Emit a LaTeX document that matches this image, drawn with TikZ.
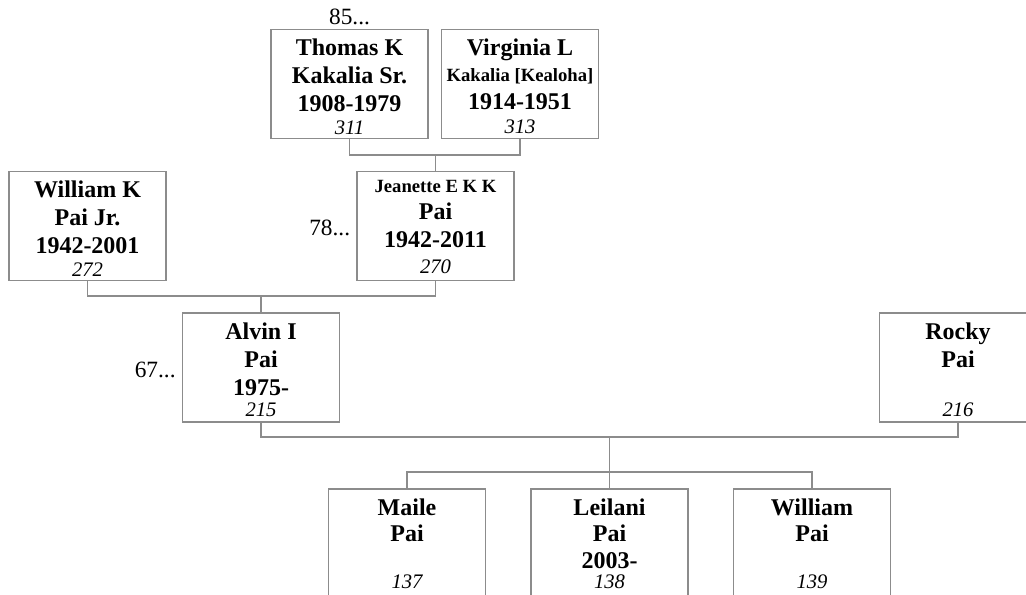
\documentclass[tikz,border=0pt]{standalone}
\usepackage{fontspec}
\setmainfont{Liberation Serif}
\usetikzlibrary{calc}
\definecolor{boxgray}{RGB}{140,140,140}
\newcommand{\nm}{\fontsize{18}{21}\selectfont\bfseries}
\newcommand{\sm}{\fontsize{14}{21}\selectfont\bfseries}
\newcommand{\num}[1]{{\fontsize{15.5}{21}\selectfont\mdseries\itshape #1}}
\newcommand{\gen}[1]{{\fontsize{17.5}{21}\selectfont #1...}}
\tikzset{
  pbox/.style={draw=boxgray, line width=0.9pt, minimum width=117.75pt, minimum height=81.75pt, inner sep=0pt},
  txt/.style={anchor=north, align=center, inner sep=0pt, font=\nm},
  conn/.style={draw=boxgray, line width=0.9pt},
  genlbl/.style={inner sep=0pt}
}
\begin{document}
\begin{tikzpicture}[x=0.75pt,y=-0.75pt]
\path[use as bounding box] (0,0) rectangle (1026,594);
\clip (0,0) rectangle (1026,594);
\fill[white] (0,0) rectangle (1026,594);
% boxes
\node[pbox] (thomas) at (349.5,84) {};
\node[pbox] (virginia) at (520,84) {};
\node[pbox] (william) at (87.5,226) {};
\node[pbox] (jeanette) at (435.5,226) {};
\node[pbox] (alvin) at (261,367.5) {};
\node[pbox] (rocky) at (958,367.5) {};
\node[pbox] (maile) at (407,543.5) {};
\node[pbox] (leilani) at (609.5,543.5) {};
\node[pbox] (willc) at (812,543.5) {};
% texts
\node[txt] (thomasT) at ($(thomas.north)+(0,10)$) {Thomas K\\Kakalia Sr.\\1908-1979\\[-4pt]\num{311}};
\node[txt] (virginiaT) at ($(virginia.north)+(0,10)$) {Virginia L\\[-2pt]{\sm Kakalia [Kealoha]}\\1914-1951\\[-3pt]\num{313}};
\node[txt] (williamT) at ($(william.north)+(0,10)$) {William K\\Pai Jr.\\1942-2001\\[-4pt]\num{272}};
\node[txt] (jeanetteT) at ($(jeanette.north)+(0,9)$) {{\sm Jeanette E K K}\\[-1pt]Pai\\1942-2011\\[-1pt]\num{270}};
\node[txt] (alvinT) at ($(alvin.north)+(0,10)$) {Alvin I\\Pai\\1975-\\[-5pt]\num{215}};
\node[txt] (rockyT) at ($(rocky.north)+(0,10)$) {Rocky\\Pai\\\mbox{}\\[-5pt]\num{216}};
\node[txt] (maileT) at ($(maile.north)+(0,10)$) {Maile\\[-1pt]Pai\\[-1pt]\mbox{}\\[-6pt]\num{137}};
\node[txt] (leilaniT) at ($(leilani.north)+(0,10)$) {Leilani\\[-1pt]Pai\\[-1pt]2003-\\[-6pt]\num{138}};
\node[txt] (willcT) at ($(willc.north)+(0,10)$) {William\\[-1pt]Pai\\[-1pt]\mbox{}\\[-6pt]\num{139}};
% generation labels
\node[genlbl, anchor=south] (g85) at ($(thomas.north)+(0,-4)$) {\gen{85}};
\node[genlbl, anchor=east] (g78) at ($(jeanette.west)+(-6,2)$) {\gen{78}};
\node[genlbl, anchor=east] (g67) at ($(alvin.west)+(-6,2)$) {\gen{67}};
% connectors
\coordinate (j1) at (435.5,155);
\coordinate (j2) at (261,296);
\coordinate (j3) at (609.5,437);
\coordinate (k3) at (609.5,472);
\draw[conn] (thomas.south) |- (j1) -| (virginia.south);
\draw[conn] (j1) -- (jeanette.north);
\draw[conn] (william.south) |- (j2) -| (jeanette.south);
\draw[conn] (j2) -- (alvin.north);
\draw[conn] (alvin.south) |- (j3) -| (rocky.south);
\draw[conn] (j3) -- (k3);
\draw[conn] (maile.north) |- (k3) -| (willc.north);
\draw[conn] (k3) -- (leilani.north);
\end{tikzpicture}
\end{document}
